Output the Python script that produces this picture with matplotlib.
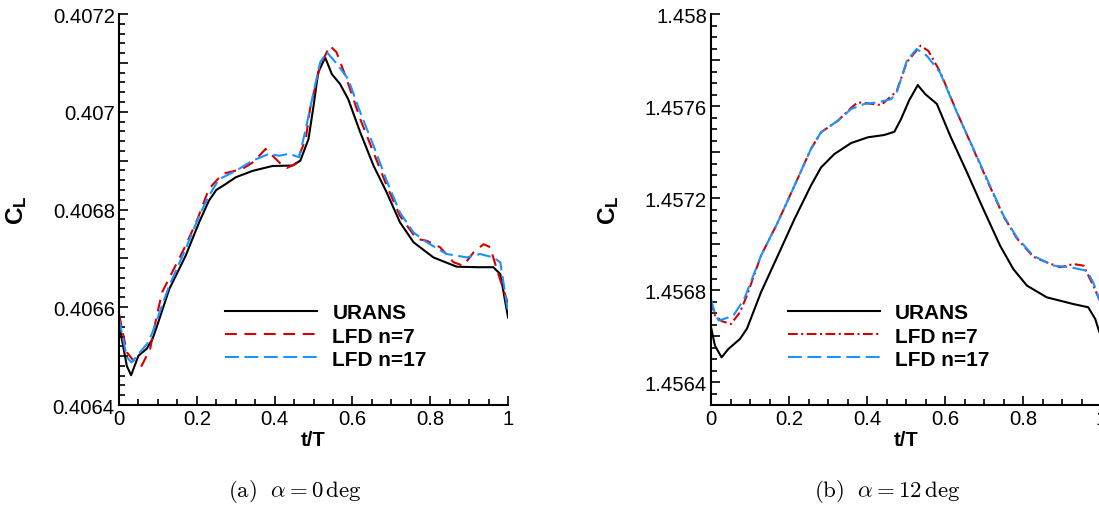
import matplotlib
matplotlib.use('Agg')
import matplotlib.pyplot as plt
from matplotlib.ticker import MultipleLocator, FuncFormatter

# ---- data ----
# (a) alpha = 0 deg
t_urans_a = [0, 0.02, 0.031, 0.05, 0.071, 0.086, 0.097, 0.129, 0.171, 0.206, 0.231, 0.25, 0.274, 0.3,
             0.343, 0.394, 0.446, 0.466, 0.487, 0.5, 0.512, 0.53, 0.547, 0.568, 0.589, 0.62, 0.654, 0.688,
             0.722, 0.757, 0.808, 0.868, 0.92, 0.962, 0.98, 1.0]
cl_urans_a = [0.406566, 0.406480, 0.406461, 0.406501, 0.406515, 0.406535, 0.406560, 0.406637, 0.406705,
              0.406774, 0.406818, 0.406840, 0.406852, 0.406866, 0.406879, 0.406889, 0.406890, 0.406900,
              0.406944, 0.407012, 0.407081, 0.407111, 0.407077, 0.407057, 0.407026, 0.406958, 0.406890,
              0.406835, 0.406774, 0.406733, 0.406702, 0.406683, 0.406682, 0.406682, 0.406668, 0.406579]

t_n7_a = [0, 0.02, 0.037, 0.058, 0.08, 0.097, 0.111, 0.171, 0.2, 0.231, 0.266, 0.317, 0.345, 0.377, 0.42,
          0.431, 0.454, 0.48, 0.491, 0.517, 0.542, 0.559, 0.585, 0.62, 0.654, 0.688, 0.722, 0.765, 0.791,
          0.825, 0.86, 0.885, 0.911, 0.937, 0.954, 0.971, 1.0]
cl_n7_a = [0.406586, 0.406508, 0.406491, 0.406480, 0.406515, 0.406583, 0.406631, 0.406726, 0.406777,
           0.406842, 0.406873, 0.406883, 0.406897, 0.406924, 0.406890, 0.406885, 0.406893, 0.406944,
           0.407006, 0.407094, 0.407135, 0.407122, 0.407067, 0.406985, 0.406917, 0.406849, 0.406787,
           0.406740, 0.406736, 0.406723, 0.406692, 0.406685, 0.406712, 0.406729, 0.406723, 0.406678,
           0.406607]

t_n17_a = [0, 0.02, 0.032, 0.054, 0.075, 0.086, 0.129, 0.171, 0.206, 0.231, 0.257, 0.3, 0.343, 0.386,
           0.411, 0.437, 0.463, 0.478, 0.5, 0.517, 0.534, 0.56, 0.589, 0.62, 0.654, 0.688, 0.722, 0.757,
           0.791, 0.842, 0.894, 0.928, 0.962, 0.98, 1.0]
cl_n17_a = [0.406576, 0.406498, 0.406487, 0.406508, 0.406528, 0.406549, 0.406644, 0.406719, 0.406787,
            0.406828, 0.406862, 0.406879, 0.406900, 0.406914, 0.406910, 0.406914, 0.406907, 0.406958,
            0.407040, 0.407101, 0.407122, 0.407098, 0.407067, 0.406999, 0.406931, 0.406859, 0.406794,
            0.406753, 0.406733, 0.406709, 0.406702, 0.406709, 0.406702, 0.406692, 0.406590]

# (b) alpha = 12 deg
t_urans_b = [0, 0.01, 0.027, 0.044, 0.074, 0.092, 0.128, 0.171, 0.214, 0.256, 0.282, 0.316, 0.359, 0.402,
             0.444, 0.47, 0.487, 0.508, 0.53, 0.549, 0.579, 0.613, 0.656, 0.698, 0.741, 0.775, 0.81, 0.861,
             0.929, 0.967, 0.985, 0.995, 1.0]
cl_urans_b = [1.456638, 1.456558, 1.456507, 1.456543, 1.456587, 1.456632, 1.456790, 1.456949, 1.457109,
              1.457254, 1.457333, 1.457391, 1.457439, 1.457464, 1.457474, 1.457488, 1.457543, 1.457625,
              1.457691, 1.457652, 1.457609, 1.457471, 1.457312, 1.457152, 1.456993, 1.456891, 1.456819,
              1.456768, 1.456739, 1.456725, 1.456674, 1.456620, 1.456600]

t_n7_b = [0, 0.01, 0.027, 0.051, 0.074, 0.092, 0.128, 0.171, 0.214, 0.256, 0.282, 0.325, 0.359, 0.376,
          0.41, 0.436, 0.462, 0.476, 0.502, 0.537, 0.557, 0.587, 0.63, 0.673, 0.715, 0.75, 0.784, 0.826,
          0.861, 0.895, 0.929, 0.955, 0.98, 0.995, 1.0]
cl_n7_b = [1.456750, 1.456690, 1.456665, 1.456652, 1.456703, 1.456776, 1.456949, 1.457094, 1.457254,
           1.457413, 1.457486, 1.457536, 1.457592, 1.457616, 1.457610, 1.457604, 1.457643, 1.457665,
           1.457791, 1.457862, 1.457840, 1.457750, 1.457575, 1.457410, 1.457250, 1.457120, 1.457025,
           1.456945, 1.456920, 1.456899, 1.456913, 1.456906, 1.456819, 1.456761, 1.456745]

t_n17_b = [0, 0.01, 0.02, 0.057, 0.085, 0.128, 0.171, 0.214, 0.256, 0.282, 0.325, 0.359, 0.393, 0.427,
           0.462, 0.476, 0.502, 0.527, 0.553, 0.587, 0.63, 0.673, 0.715, 0.75, 0.784, 0.826, 0.878, 0.921,
           0.963, 0.98, 0.995, 1.0]
cl_n17_b = [1.456761, 1.456696, 1.456667, 1.456688, 1.456761, 1.456949, 1.457094, 1.457254, 1.457413,
            1.457486, 1.457536, 1.457587, 1.457609, 1.457616, 1.457630, 1.457659, 1.457797, 1.457848,
            1.457819, 1.457746, 1.457573, 1.457413, 1.457254, 1.457123, 1.457029, 1.456949, 1.456906,
            1.456899, 1.456884, 1.456833, 1.456761, 1.456745]

labels = ['URANS', 'LFD n=7', 'LFD n=17']
captions = [r'$\mathrm{(a)}\ \ \alpha = 0\,\mathrm{deg}$', r'$\mathrm{(b)}\ \ \alpha = 12\,\mathrm{deg}$']

# ---- style ----
plt.rcParams['font.family'] = ['Liberation Sans', 'DejaVu Sans']
plt.rcParams['mathtext.fontset'] = 'custom'
plt.rcParams['mathtext.rm'] = 'Liberation Sans'
plt.rcParams['mathtext.bf'] = 'Liberation Sans:bold'
plt.rcParams['lines.scale_dashes'] = False

red = '#d40000'
blue = '#1e90ff'
fs = 14.6


def tick_fmt(step):
    # label every second major tick, drop trailing zeros like tecplot does
    def f(v, pos):
        k = int(round(v / step))
        if k % 2:
            return ''
        s = '%.4f' % v
        return s.rstrip('0').rstrip('.')
    return f


def style_axes(ax, ylim, major, minor):
    ax.set_xlim(0, 1)
    ax.set_ylim(*ylim)
    ax.xaxis.set_major_locator(MultipleLocator(0.2))
    ax.xaxis.set_minor_locator(MultipleLocator(0.05))
    ax.xaxis.set_major_formatter(FuncFormatter(lambda v, p: '%g' % round(v, 2)))
    ax.yaxis.set_major_locator(MultipleLocator(major))
    ax.yaxis.set_minor_locator(MultipleLocator(minor))
    ax.yaxis.set_major_formatter(FuncFormatter(tick_fmt(major)))
    ax.tick_params(which='both', direction='in', top=False, right=False, width=1.2, labelsize=fs)
    ax.tick_params(which='major', length=6.5)
    ax.tick_params(which='minor', length=4.3)
    ax.tick_params(axis='x', pad=3)
    ax.tick_params(axis='y', pad=3)
    for s in ['top', 'right']:
        ax.spines[s].set_visible(False)
    for s in ['left', 'bottom']:
        ax.spines[s].set_linewidth(1.5)
    ax.set_xlabel('t/T', fontsize=fs, fontweight='bold', labelpad=1)
    ax.set_ylabel(r'$\mathbf{C_L}$', fontsize=fs + 3, labelpad=17)


fig = plt.figure(figsize=(10.99, 5.06), dpi=100)
ax1 = fig.add_axes([0.1083, 0.1976, 0.354, 0.7727])
ax2 = fig.add_axes([0.6470, 0.1976, 0.3549, 0.7727])

# left panel
ax1.plot(t_urans_a, cl_urans_a, color='black', lw=1.5, label=labels[0])
ax1.plot(t_n7_a, cl_n7_a, color=red, lw=1.5, dashes=(8.5, 5.5), label=labels[1])
ax1.plot(t_n17_a, cl_n17_a, color=blue, lw=1.5, dashes=(10, 4), label=labels[2])
style_axes(ax1, (0.4064, 0.4072), 0.0001, 0.00002)

# right panel
ax2.plot(t_urans_b, cl_urans_b, color='black', lw=1.5, label=labels[0])
ax2.plot(t_n7_b, cl_n7_b, color=red, lw=1.5, dashes=(7, 2.5, 1.5, 2.5), label=labels[1])
ax2.plot(t_n17_b, cl_n17_b, color=blue, lw=1.5, dashes=(10, 4), label=labels[2])
style_axes(ax2, (1.4563, 1.458), 0.0002, 0.00005)

for ax, x0 in [(ax1, 0.2725), (ax2, 0.197)]:
    ax.legend(loc='center left', bbox_to_anchor=(x0, 0.1765), frameon=False, borderpad=0,
              borderaxespad=0, handlelength=4.4, handletextpad=0.75, labelspacing=0.2,
              prop={'weight': 'bold', 'size': 15})

# subfigure captions
fig.text(0.268, 0.028, captions[0], ha='center', va='center', fontsize=16.5, math_fontfamily='cm')
fig.text(0.807, 0.028, captions[1], ha='center', va='center', fontsize=16.5, math_fontfamily='cm')

fig.savefig('out.png', dpi=100)
